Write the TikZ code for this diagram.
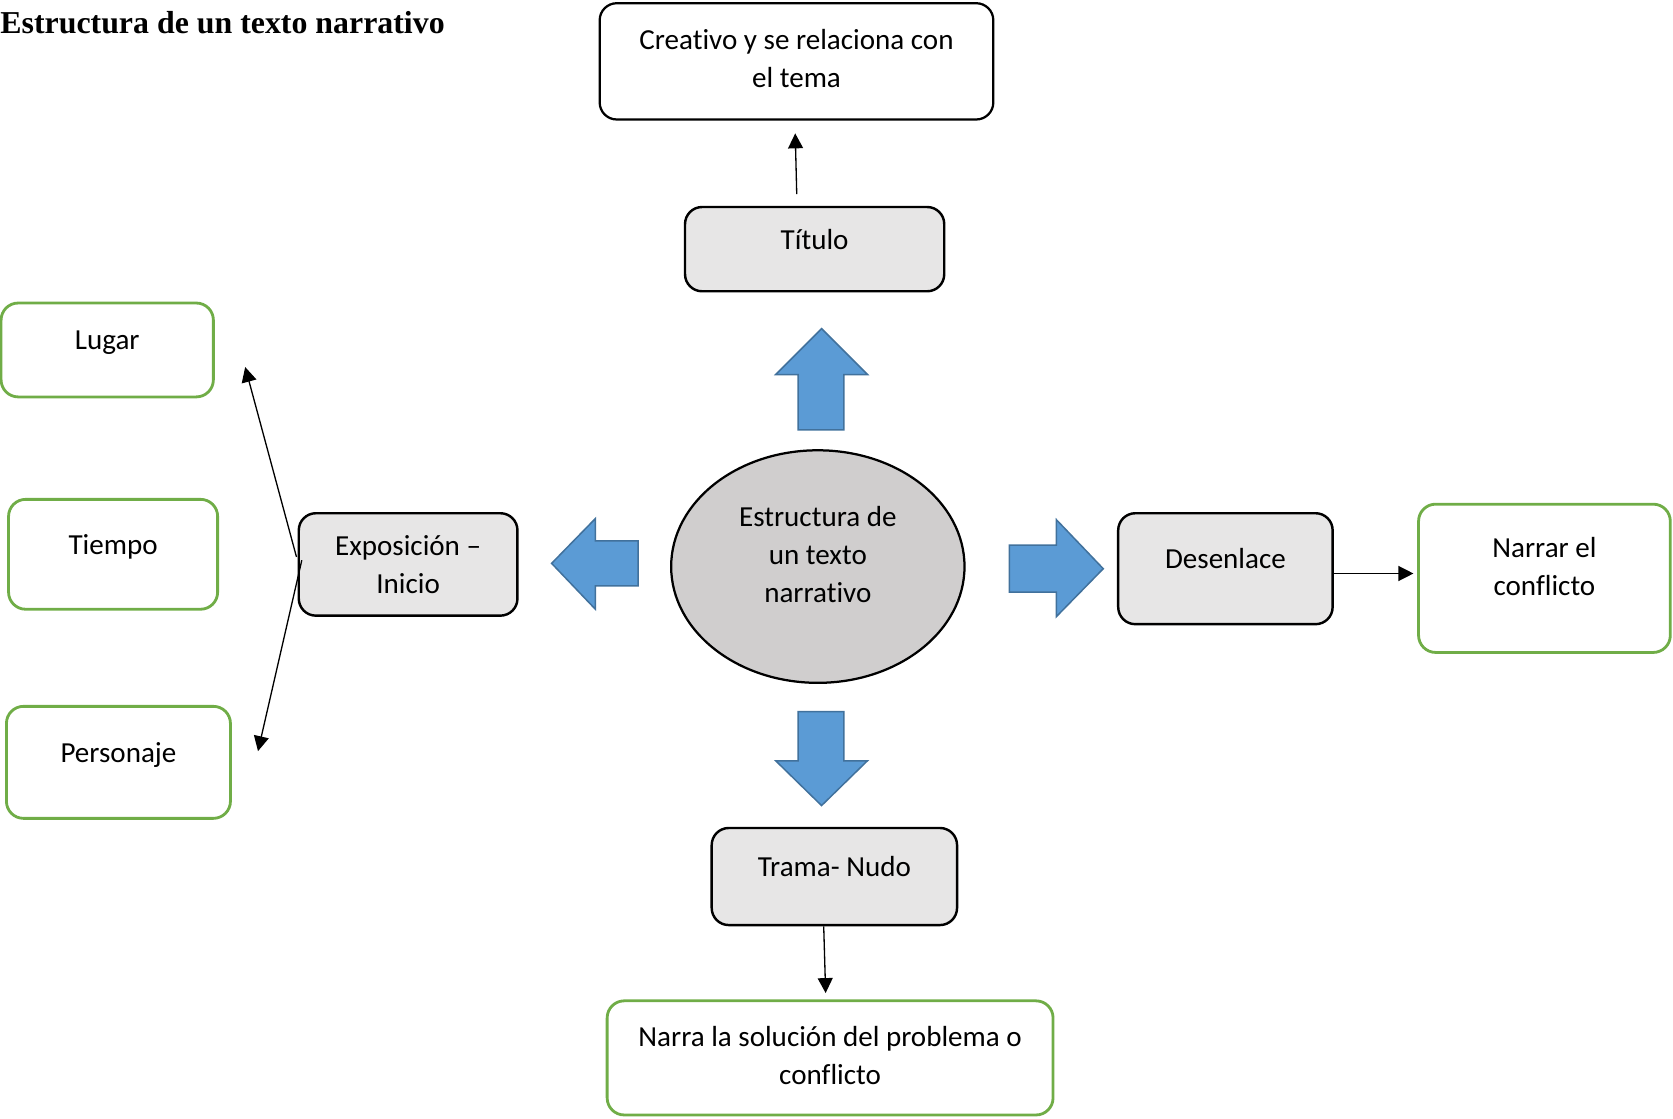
\documentclass[tikz,border=0pt]{standalone}
\usepackage{fontspec}
\setmainfont{Carlito}[RawFeature={-liga;-clig;-calt}]
\newfontfamily\titlefont{Liberation Serif}
\usepackage{xcolor}
\usepackage{tikz}
\usetikzlibrary{arrows,arrows.meta,shapes}

\definecolor{boxgray}{HTML}{E7E6E6}
\definecolor{ovalgray}{HTML}{D0CECE}
\definecolor{leafgreen}{HTML}{70AD47}
\definecolor{arrowblue}{HTML}{5B9BD5}
\definecolor{arrowedge}{HTML}{41719C}

\tikzset{
  every node/.style={font=\fontsize{15.5}{20.4}\selectfont, align=center},
  roundbox/.style={rectangle, rounded corners=0.32cm, inner sep=0pt},
  graybox/.style={roundbox, draw=black, line width=1.3pt, fill=boxgray},
  whitebox/.style={roundbox, draw=black, line width=1.2pt},
  greenbox/.style={roundbox, draw=leafgreen, line width=1.5pt},
  oneline/.style={text height=8pt, text depth=8pt},
  liftup/.style={text depth=13pt},
  conn/.style={line width=0.7pt, -{Triangle[length=0.28cm, width=0.28cm]}},
  bigarrow/.style={fill=arrowblue, draw=arrowedge, line width=0.8pt},
}

\begin{document}
\begin{tikzpicture}[x=0.02cm, y=-0.02cm]
        \useasboundingbox (0,0) rectangle (1568,1048);
        \node[anchor=base west, inner sep=0pt, font={\titlefont\bfseries\fontsize{17}{20}\selectfont}] (encabezado) at (0,31) {Estructura de un texto narrativo};
        % centro y ramas
        \node[ellipse, draw=black, line width=1.2pt, fill=ovalgray, inner sep=0pt, minimum width=5.5cm, minimum height=4.36cm, liftup] (centro) at (766.5,531) {Estructura de\\un texto\\narrativo};
        \node[graybox, oneline, minimum width=4.86cm, minimum height=1.58cm] (titulo) at (763.5,233.5) {Título};
        \node[whitebox, text depth=3.5pt, minimum width=7.38cm, minimum height=2.18cm] (creativo) at (746.5,57.5) {Creativo y se relaciona con\\el tema};
        \node[graybox, minimum width=4.1cm, minimum height=1.92cm] (expo) at (382.5,529) {Exposición –\\Inicio};
        \node[graybox, oneline, minimum width=4.02cm, minimum height=2.08cm] (desen) at (1148.5,533) {Desenlace};
        \node[greenbox, liftup, minimum width=4.72cm, minimum height=2.78cm] (narrar) at (1447.5,542) {Narrar el\\conflicto};
        \node[graybox, oneline, minimum width=4.6cm, minimum height=1.82cm] (trama) at (782,821.5) {Trama- Nudo};
        \node[greenbox, text depth=2.5pt, minimum width=8.36cm, minimum height=2.14cm] (solucion) at (778,991.5) {Narra la solución del problema o\\conflicto};
        \node[greenbox, oneline, minimum width=3.98cm, minimum height=1.76cm] (lugar) at (100.5,328) {Lugar};
        \node[greenbox, oneline, minimum width=3.92cm, minimum height=2.06cm] (tiempo) at (106,519.5) {Tiempo};
        \node[greenbox, oneline, minimum width=4.2cm, minimum height=2.1cm] (personaje) at (111,714.5) {Personaje};
        % flechas azules
        \filldraw[bigarrow] (748,403) -- (748,351) -- (727,351) -- (770,308) -- (813,351) -- (791,351) -- (791,403) -- cycle;
        \filldraw[bigarrow] (748,667) -- (791,667) -- (791,713) -- (813,713) -- (770,755) -- (727,713) -- (748,713) -- cycle;
        \filldraw[bigarrow] (598,507) -- (558,507) -- (558,486) -- (517,528) -- (558,571) -- (558,549) -- (598,549) -- cycle;
        \filldraw[bigarrow] (946,511) -- (990,511) -- (990,487) -- (1034,533) -- (990,578) -- (990,555) -- (946,555) -- cycle;
        % conectores
        \draw[conn, shorten <=0.22cm, shorten >=0.24cm] ([xshift=-0.33cm]titulo.north) -- ([xshift=-0.03cm]creativo.south);
        \draw[conn, shorten >=0.12cm] ([xshift=-0.2cm]trama.south) -- ([xshift=-0.08cm]solucion.north);
        \coordinate (dsal) at ([yshift=-0.09cm]desen.east);
        \draw[conn, shorten >=0.07cm] (dsal) -- (dsal -| narrar.west);
        \draw[conn] ([xshift=-0.02cm, yshift=0.14cm]expo.west) -- ([xshift=0.57cm, yshift=-0.32cm]lugar.east);
        \draw[conn] ([xshift=0.08cm, yshift=0.08cm]expo.west) -- ([xshift=0.49cm, yshift=0.21cm]personaje.east);
    \end{tikzpicture}
\end{document}
